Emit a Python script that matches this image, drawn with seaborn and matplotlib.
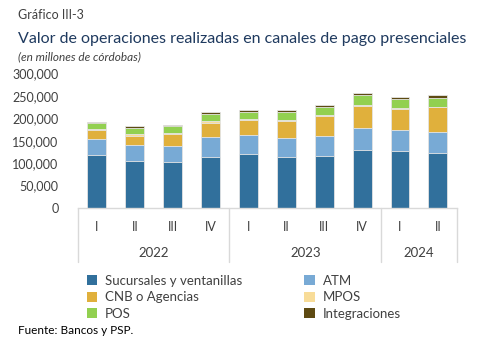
import numpy as np
import pandas as pd
import matplotlib.pyplot as plt
import seaborn as sns
from matplotlib.patches import Patch

# ============================================================
# Data (millones de córdobas)
# ============================================================

quarters = ["I", "II", "III", "IV", "I", "II", "III", "IV", "I", "II"]
bar_years = ["2022"] * 4 + ["2023"] * 4 + ["2024"] * 2
years = ["2022", "2023", "2024"]

sucursales = [118800, 103800, 101500, 112800, 119600, 114300, 116600, 128600, 126300, 121800]
atm = [34600, 36800, 37600, 45100, 42100, 41400, 44400, 49600, 47400, 47400]
cnb = [21100, 20400, 25600, 32400, 35300, 38300, 44300, 49700, 47400, 54900]
mpos = [1000, 3000, 2300, 3000, 1500, 2300, 1500, 1500, 1500, 1500]
pos = [14300, 14200, 16500, 16500, 15800, 18000, 18800, 21000, 21000, 20300]
integraciones = [2200, 3800, 1500, 3800, 3700, 3700, 3000, 4500, 3800, 4500]

series_names = ["Sucursales y ventanillas", "ATM", "CNB o Agencias",
                "MPOS", "POS", "Integraciones"]
series_colors = ["#31709C", "#78AAD5", "#E0B03C", "#F8DC98", "#92D050", "#5E4A12"]

periods = [f"{y}-{q}" for y, q in zip(bar_years, quarters)]

df = pd.DataFrame({
    "periodo": periods,
    series_names[0]: sucursales,
    series_names[1]: atm,
    series_names[2]: cnb,
    series_names[3]: mpos,
    series_names[4]: pos,
    series_names[5]: integraciones,
})

cum = df[series_names].cumsum(axis=1)
cum["periodo"] = df["periodo"]

# ============================================================
# Figure
# ============================================================

sns.set_style("white")
plt.rcParams["font.family"] = ["Lato", "DejaVu Sans"]

fig = plt.figure(figsize=(4.87, 3.57), dpi=100)
ax = fig.add_axes([0.160, 0.417, 0.778, 0.378])

# stacked bars: draw cumulative totals from top layer down
for name, color in reversed(list(zip(series_names, series_colors))):
    sns.barplot(
        data=cum,
        x="periodo",
        y=name,
        order=periods,
        color=color,
        width=0.5,
        edgecolor="#E6E6E6",
        linewidth=0.6,
        saturation=1,
        ax=ax,
    )

ax.set_ylim(0, 300000)
ax.set_xlim(-0.5, len(periods) - 0.5)
ax.set_yticks(np.arange(0, 300001, 50000))
ax.set_yticklabels([f"{v:,}" for v in range(0, 300001, 50000)],
                   fontsize=9, color="#404040")
ax.tick_params(axis="y", length=0, pad=14)
ax.tick_params(axis="x", length=0)
ax.set_xticks([])
ax.set_xlabel("")
ax.set_ylabel("")

for side in ["left", "right", "top"]:
    ax.spines[side].set_visible(False)
ax.spines["bottom"].set_color("#D9D9D9")
ax.spines["bottom"].set_linewidth(1.0)

# hierarchical x axis
for i, q in enumerate(quarters):
    ax.text(i, -0.14, q, transform=ax.get_xaxis_transform(),
            ha="center", va="center", fontsize=9, color="#404040")

bounds = [-0.5]
for yr in years:
    idx = [i for i, b in enumerate(bar_years) if b == yr]
    start, end = idx[0] - 0.5, idx[-1] + 0.5
    bounds.append(end)
    ax.text((start + end) / 2, -0.33, yr, transform=ax.get_xaxis_transform(),
            ha="center", va="center", fontsize=9.5, color="#404040")

for b in bounds:
    ax.plot([b, b], [0, -0.40], transform=ax.get_xaxis_transform(),
            color="#D9D9D9", linewidth=1.0, clip_on=False)

# ============================================================
# Titles
# ============================================================

fig.text(18 / 487, 1 - 15 / 357, "Gráfico III-3", fontsize=9,
         color="#404040", ha="left", va="center")
fig.text(18 / 487, 1 - 39 / 357,
         "Valor de operaciones realizadas en canales de pago presenciales",
         fontsize=11.5, color="#1F3A5F", ha="left", va="center")
fig.text(18 / 487, 1 - 57 / 357, "(en millones de córdobas)", fontsize=8.5,
         style="italic", color="#404040", ha="left", va="center")

# ============================================================
# Legend
# ============================================================

handles = [Patch(facecolor=c, edgecolor="none") for c in series_colors]
order = [0, 2, 4, 1, 3, 5]
fig.legend(
    [handles[i] for i in order],
    [series_names[i] for i in order],
    ncol=2,
    loc="upper left",
    bbox_to_anchor=(80 / 487, 1 - 268 / 357),
    frameon=False,
    fontsize=9.5,
    labelcolor="#404040",
    handlelength=0.8,
    handleheight=0.8,
    handletextpad=0.6,
    columnspacing=4.7,
    labelspacing=0.35,
    borderpad=0,
)

fig.text(18 / 487, 1 - 330 / 357, "Fuente: Bancos y PSP.", fontsize=8.5,
         color="#000000", ha="left", va="center")

plt.savefig("out.png", dpi=100)
plt.close()
